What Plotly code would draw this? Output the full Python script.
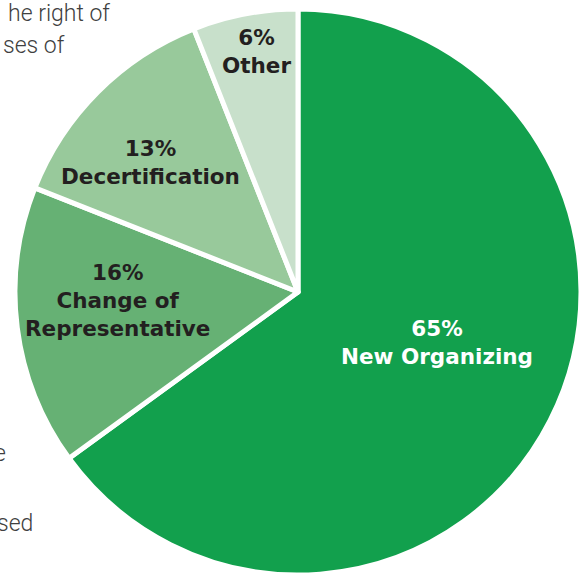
import plotly.graph_objects as go

# Data
categories = ["New Organizing", "Change of Representative", "Decertification", "Other"]
percentages = [65, 16, 13, 6]
label_lines = [["New Organizing"], ["Change of", "Representative"], ["Decertification"], ["Other"]]
background_fragments = ["he right of", "ses of", "e", "sed"]

W, H = 581, 575
colors = ["#12a04d", "#66b174", "#98c99b", "#c8e0cb"]
text_colors = ["#ffffff", "#231f20", "#231f20", "#231f20"]

cx, cy, R = 298, 292, 283

fig = go.Figure(go.Pie(
    labels=categories,
    values=percentages,
    sort=False,
    direction="clockwise",
    rotation=0,
    marker=dict(colors=colors, line=dict(color="white", width=5)),
    textinfo="none",
    hoverinfo="label+percent",
    showlegend=False,
    domain=dict(x=[(cx - R) / W, (cx + R) / W], y=[(H - cy - R) / H, (H - cy + R) / H]),
))

# label positions in pixels (block centers)
label_pos = [(437, 342), (117, 300), (150, 163), (256, 51)]
annotations = []
for pct, lines, (px, py), tc in zip(percentages, label_lines, label_pos, text_colors):
    txt = "<b>" + f"{pct}%<br>" + "<br>".join(lines) + "</b>"
    annotations.append(dict(
        x=px / W, y=1 - py / H, xref="paper", yref="paper",
        text=txt, showarrow=False, xanchor="center", yanchor="middle",
        font=dict(family="DejaVu Sans", size=21.5, color=tc), align="center",
    ))

# cut-off background text fragments (right edge x, center y)
frag_pos = [(112, 14), (67, 46), (8, 453), (35, 523)]
for frag, (px, py) in zip(background_fragments, frag_pos):
    annotations.append(dict(
        x=px / W, y=1 - py / H, xref="paper", yref="paper",
        text=frag, showarrow=False, xanchor="right", yanchor="middle",
        font=dict(family="Roboto", size=23, color="#404040", weight=300),
    ))

fig.update_layout(
    width=W, height=H,
    margin=dict(l=0, r=0, t=0, b=0),
    paper_bgcolor="white", plot_bgcolor="white",
    annotations=annotations,
)

fig.write_html("out.html", config={"displayModeBar": False},
               post_script="document.body.style.margin='0';")
